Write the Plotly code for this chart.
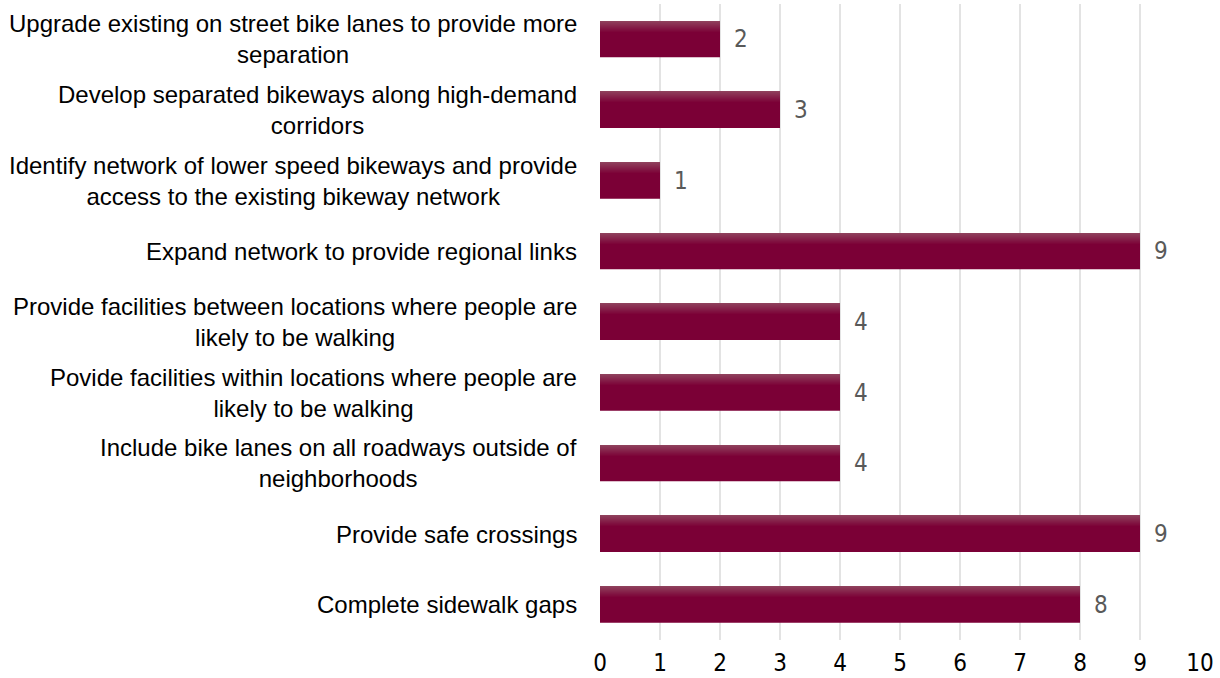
import plotly.graph_objects as go

# Survey priorities: number of responses per improvement
labels = [
    ["Upgrade existing on street bike lanes to provide more", "separation"],
    ["Develop separated bikeways along high-demand", "corridors"],
    ["Identify network of lower speed bikeways and provide", "access to the existing bikeway network"],
    ["Expand network to provide regional links"],
    ["Provide facilities between locations where people are", "likely to be walking"],
    ["Povide facilities within locations where people are", "likely to be walking"],
    ["Include bike lanes on all roadways outside of", "neighborhoods"],
    ["Provide safe crossings"],
    ["Complete sidewalk gaps"],
]
counts = [2, 3, 1, 9, 4, 4, 4, 9, 8]
x_ticks = [0, 1, 2, 3, 4, 5, 6, 7, 8, 9, 10]

cats = [" ".join(l) for l in labels]

BAR_W = 0.51
MAIN = (123, 0, 54)
TOP = (143, 64, 92)
NARROW = "Liberation Sans Narrow, Arial Narrow, DejaVu Sans Condensed, sans-serif"

fig = go.Figure()
fig.add_trace(go.Bar(
    y=cats, x=counts, orientation="h", width=BAR_W,
    marker=dict(color="rgb(%d,%d,%d)" % MAIN, line=dict(width=0)),
    hoverinfo="skip",
))

# soft highlight along the top edge of each bar
n_strips = 12
strip_w = BAR_W / 36.0
for i in range(n_strips):
    t = i / (n_strips - 1)
    c = tuple(round(TOP[k] + (MAIN[k] - TOP[k]) * t) for k in range(3))
    fig.add_trace(go.Bar(
        y=cats, x=counts, orientation="h", width=strip_w * 1.05,
        offset=-BAR_W / 2 + i * strip_w,
        marker=dict(color="rgb(%d,%d,%d)" % c, line=dict(width=0)),
        hoverinfo="skip",
    ))

annotations = []
for cat, lines in zip(cats, labels):
    annotations.append(dict(
        x=0, xref="paper", y=cat, yref="y", text="<br>".join(lines), showarrow=False,
        xanchor="right", xshift=-21, align="center",
        font=dict(family="Liberation Sans, Arial, sans-serif", size=24, color="#000000"),
    ))
for cat, v in zip(cats, counts):
    annotations.append(dict(
        x=v, xref="x", y=cat, yref="y", text=str(v), showarrow=False,
        xanchor="left", xshift=12,
        font=dict(family=NARROW, size=24, color="#595959"),
    ))

fig.update_layout(
    width=1220, height=678,
    margin=dict(l=600, r=20, t=4, b=38, autoexpand=False),
    paper_bgcolor="white", plot_bgcolor="white",
    barmode="overlay", showlegend=False,
    annotations=annotations,
    xaxis=dict(
        range=[0, 10], tickvals=x_ticks, showgrid=True, gridcolor="#e3e3e3", gridwidth=2,
        zeroline=False, showline=False, ticks="", ticklabelstandoff=6,
        tickfont=dict(family=NARROW, size=24, color="#000000"),
        fixedrange=True,
    ),
    yaxis=dict(
        type="category", categoryarray=cats, autorange="reversed",
        showticklabels=False, showgrid=False, zeroline=False, showline=False, ticks="",
        fixedrange=True,
    ),
)

fig.write_html("out.html")
